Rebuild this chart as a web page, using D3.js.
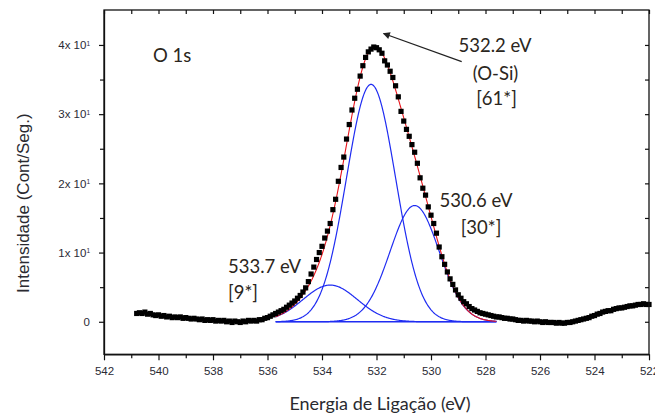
<!DOCTYPE html>
<html>
<head>
<meta charset="utf-8">
<script src="https://cdn.jsdelivr.net/npm/d3@7"></script>
<style>
  body { margin: 0; background: #fff; }
  svg { display: block; }
</style>
</head>
<body>
<div id="chart"></div>
<script>
// measured spectrum, one point every 0.1 eV starting at 540.8 eV
const eVStart = 540.8, eVStep = 0.1;
const counts = [
  1.2, 1.3, 1.2, 1.4, 1.1, 1.2, 1.0, 0.9, 1.0, 0.8,
  0.9, 0.7, 0.8, 0.6, 0.7, 0.6, 0.7, 0.5, 0.6, 0.5,
  0.4, 0.5, 0.4, 0.3, 0.4, 0.2, 0.3, 0.2, 0.3, 0.1,
  0.2, 0.1, 0.2, 0.0, 0.1, -0.1, 0.1, 0.0, -0.1, 0.1,
  0.0, 0.2, 0.1, 0.2, 0.1, 0.3, 0.3, 0.5, 0.6, 0.8,
  1.0, 1.2, 1.4, 1.6, 1.8, 2.1, 2.4, 2.7, 3.0, 3.4,
  3.8, 4.3, 4.9, 5.8, 6.9, 7.9, 9.0, 10.0, 10.9, 12.1,
  13.1, 14.2, 16.2, 17.7, 20.3, 22.3, 23.8, 26.4, 28.5, 30.6,
  32.3, 33.6, 35.5, 37.0, 38.2, 39.0, 39.4, 39.7, 39.6, 39.3,
  38.8, 37.7, 37.1, 36.2, 35.3, 34.1, 32.5, 30.4, 29.0, 27.8,
  26.8, 25.6, 24.5, 22.9, 20.8, 19.3, 18.3, 16.6, 15.4, 14.2,
  12.8, 10.8, 9.4, 8.3, 7.2, 6.2, 5.4, 4.6, 3.9, 3.4,
  2.9, 2.6, 2.2, 1.9, 1.7, 1.5, 1.3, 1.2, 1.1, 1.0,
  0.9, 0.8, 0.7, 0.7, 0.6, 0.5, 0.5, 0.4, 0.4, 0.3,
  0.2, 0.2, 0.1, 0.2, 0.1, 0.1, 0.0, 0.1, 0.0, -0.1,
  0.0, -0.1, -0.1, -0.1, -0.2, -0.1, -0.2, -0.2, -0.1, -0.1,
  0.0, 0.1, 0.2, 0.3, 0.4, 0.5, 0.6, 0.8, 0.9, 1.1,
  1.2, 1.4, 1.5, 1.6, 1.6, 1.8, 1.9, 2.0, 2.0, 2.1,
  2.2, 2.3, 2.3, 2.4, 2.5, 2.5, 2.6, 2.5, 2.5
];

// fitted gaussian components (O-Si, 530.6, 533.7)
const peakCenter = [532.2, 530.6, 533.7];
const peakHeight = [34.3, 16.8, 5.3];
const peakFWHM = [2.12, 2.12, 2.35];
const fitRange = [535.7, 527.6];

const xTicks = [542, 540, 538, 536, 534, 532, 530, 528, 526, 524, 522];
const xMinor = [541, 539, 537, 535, 533, 531, 529, 527, 525, 523];
const yTicks = [0, 10, 20, 30, 40];
const yMinor = [5, 15, 25, 35];
const yTickLabels = ["0", "1x 10", "2x 10", "3x 10", "4x 10"];

const width = 655, height = 416,
      margin = ({ top: 10, right: 6, bottom: 61.7, left: 104 });

const data = counts.map((c, i) => ({ ev: eVStart - eVStep * i, c: c }));

let svg = d3.select("#chart")
    .append("svg")
    .attr("width", width)
    .attr("height", height);

let x = d3.scaleLinear()
    .domain([542, 522])
    .range([margin.left, width - margin.right]);

let y = d3.scaleLinear()
    .domain([-4.7, 45.05])
    .range([height - margin.bottom, margin.top]);

// gaussian components sampled over the fit window
const sig = peakFWHM.map(f => f / 2.3548);
const gauss = (k, e) => peakHeight[k] * Math.exp(-((e - peakCenter[k]) ** 2) / (2 * sig[k] ** 2));
const grid = d3.range(fitRange[0], fitRange[1] - 0.001, -0.02);

let line = d3.line().x(d => x(d[0])).y(d => y(d[1]));

peakCenter.forEach((c, k) => {
    svg.append("path")
        .attr("d", line(grid.map(e => [e, gauss(k, e)])))
        .attr("fill", "none")
        .attr("stroke", "#1f2cf2")
        .attr("stroke-width", 1.2);
});

svg.append("path") // baseline of the fit
    .attr("d", line([[fitRange[0], 0], [fitRange[1], 0]]))
    .attr("stroke", "#1f2cf2")
    .attr("stroke-width", 1.6);

svg.append("path") // envelope
    .attr("d", line(grid.map(e => [e, d3.sum(peakCenter, (c, k) => gauss(k, e))])))
    .attr("fill", "none")
    .attr("stroke", "#e8141b")
    .attr("stroke-width", 1.1);

const sq = 5.2;
svg.append("g")
    .selectAll("rect")
    .data(data)
    .join("rect")
    .attr("x", d => x(d.ev) - sq / 2)
    .attr("y", d => y(d.c) - sq / 2)
    .attr("width", sq)
    .attr("height", sq)
    .attr("fill", "#000");

// axes
const axisFont = "'Liberation Sans', Arial, sans-serif";

let xAxis = svg.append("g")
    .attr("transform", `translate(0,${height - margin.bottom})`)
    .call(d3.axisBottom(x).tickValues(xTicks).tickSize(6).tickSizeOuter(0).tickPadding(6.5).tickFormat(d3.format("d")));
svg.append("g")
    .attr("transform", `translate(0,${height - margin.bottom})`)
    .call(d3.axisBottom(x).tickValues(xMinor).tickSize(4).tickFormat(""))
    .call(g => g.select(".domain").remove());

svg.append("g")
    .attr("transform", `translate(0,${margin.top})`)
    .call(d3.axisTop(x).tickValues(xTicks.concat(xMinor)).tickSize(-4).tickFormat(""))
    .call(g => g.select(".domain").remove());

let yAxis = svg.append("g")
    .attr("transform", `translate(${margin.left},0)`)
    .call(d3.axisLeft(y).tickValues(yTicks).tickSize(5).tickSizeOuter(0).tickPadding(9)
        .tickFormat((d, i) => yTickLabels[i]));
yAxis.selectAll(".tick text")
    .filter(d => d !== 0)
    .append("tspan")
    .attr("dy", "-0.55em")
    .attr("font-size", 6.5)
    .text("1");
svg.append("g")
    .attr("transform", `translate(${margin.left},0)`)
    .call(d3.axisLeft(y).tickValues(yMinor).tickSize(4).tickFormat(""))
    .call(g => g.select(".domain").remove());

svg.append("g")
    .attr("transform", `translate(${width - margin.right},0)`)
    .call(d3.axisRight(y).tickValues(yTicks.concat(yMinor)).tickSize(-4).tickFormat(""))
    .call(g => g.select(".domain").remove());

svg.selectAll(".tick text")
    .attr("font-family", axisFont)
    .attr("font-size", 11.5)
    .attr("fill", "#2a2a35");
svg.selectAll(".tick line").attr("stroke", "#111").attr("stroke-width", 1.2);
svg.selectAll(".domain").attr("stroke", "#111").attr("stroke-width", 1.3);

svg.append("rect") // frame
    .attr("x", margin.left)
    .attr("y", margin.top)
    .attr("width", width - margin.left - margin.right)
    .attr("height", height - margin.top - margin.bottom)
    .attr("fill", "none")
    .attr("stroke", "#111")
    .attr("stroke-width", 1.3);

// titles
svg.append("text")
    .attr("transform", `translate(29,${(margin.top + height - margin.bottom) / 2 + 21}) rotate(-90)`)
    .attr("text-anchor", "middle")
    .attr("font-family", axisFont)
    .attr("font-size", 17)
    .attr("fill", "#2a2a30")
    .text("Intensidade  (Cont/Seg.)");

svg.append("text")
    .attr("x", 380)
    .attr("y", 410)
    .attr("text-anchor", "middle")
    .attr("font-family", "Lato, sans-serif")
    .attr("font-size", 18)
    .attr("fill", "#2a2a30")
    .text("Energia de Ligação (eV)");

// annotations
const noteFont = "Lato, 'Open Sans', sans-serif";
const note = (px, py, t, anchor) => svg.append("text")
    .attr("x", px).attr("y", py)
    .attr("text-anchor", anchor || "middle")
    .attr("font-family", noteFont)
    .attr("font-size", 18.5)
    .attr("fill", "#2b2620")
    .text(t);

note(153, 62, "O 1s", "start");
note(495, 51.5, "532.2 eV");
note(495.5, 80, "(O-Si)");
note(496.5, 105, "[61*]");
note(476, 206.5, "530.6 eV");
note(481, 234, "[30*]");
note(228, 273, "533.7 eV", "start");
note(228, 299, "[9*]", "start");

svg.append("defs").append("marker")
    .attr("id", "head")
    .attr("viewBox", "0 0 10 10")
    .attr("refX", 9).attr("refY", 5)
    .attr("markerWidth", 9).attr("markerHeight", 7)
    .attr("markerUnits", "userSpaceOnUse")
    .attr("orient", "auto")
    .append("path")
    .attr("d", "M0,0L10,5L0,10Z")
    .attr("fill", "#222");

svg.append("line")
    .attr("x1", 461.7).attr("y1", 61.7)
    .attr("x2", 383.5).attr("y2", 33.5)
    .attr("stroke", "#222")
    .attr("stroke-width", 1.3)
    .attr("marker-end", "url(#head)");
</script>
</body>
</html>
